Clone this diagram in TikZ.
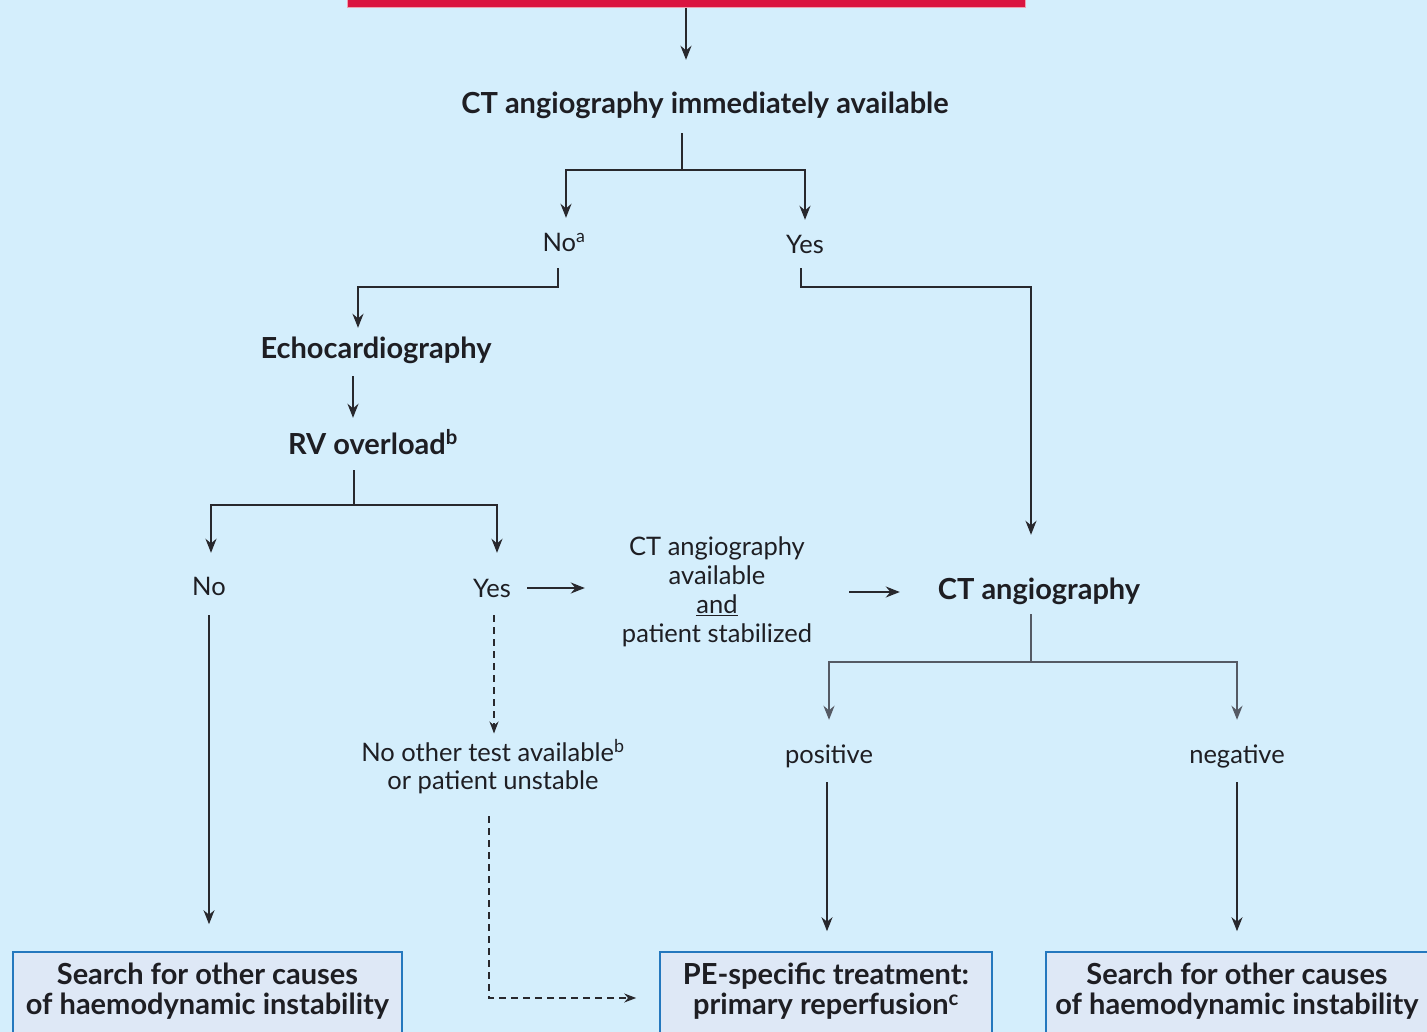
\documentclass[tikz,border=0pt]{standalone}
\usepackage{fontspec}
\setmainfont{Lato}
\usetikzlibrary{arrows.meta}
\definecolor{bgblue}{RGB}{212,238,252}
\definecolor{barred}{RGB}{218,20,64}
\definecolor{barpink}{RGB}{240,160,175}
\definecolor{boxfill}{RGB}{222,232,246}
\definecolor{boxline}{RGB}{36,120,190}
\definecolor{linecol}{RGB}{40,40,45}
\definecolor{linegrey}{RGB}{85,90,100}
\definecolor{txt}{RGB}{30,30,35}
\begin{document}
\begin{tikzpicture}[x=1pt,y=-1pt,
  lbl/.style={inner sep=0pt, text height=22pt, text depth=4pt, text=txt, font=\fontsize{25.5}{28}\selectfont},
  blbl/.style={lbl, font=\fontsize{29}{30}\selectfont\bfseries},
  mlbl/.style={inner sep=0pt, align=center, text=txt, font=\fontsize{25.5}{28}\selectfont},
  bmlbl/.style={inner sep=0pt, align=center, text=txt, font=\fontsize{29}{30}\selectfont\bfseries},
  bar/.style={fill=barred, draw=barpink, line width=1pt, minimum width=678pt, minimum height=28pt, inner sep=0pt},
  box/.style={fill=boxfill, draw=boxline, line width=1.6pt, minimum height=92pt, inner sep=0pt},
  ln/.style={draw=linecol, line width=1.8pt},
  arr/.style={ln, -{Stealth[length=14pt,width=11pt]}},
  lng/.style={draw=linegrey, line width=2.2pt},
  arrg/.style={lng, -{Stealth[length=14pt,width=11pt]}},
  dsh/.style={draw=linecol, line width=1.6pt, dash pattern=on 7pt off 5pt, -{Stealth[length=12pt,width=9pt]}}
]
\useasboundingbox (0,0) rectangle (1427,1032);
\fill[bgblue] (0,0) rectangle (1427,1032);

% nodes
\node[bar] (top) at (686,-6) {};
\node[blbl] (ctimm) at (705,105) {CT angiography immediately available};
\node[lbl] (no1) at (564,243) {No\textsuperscript{a}};
\node[lbl] (yes1) at (805,245) {Yes};
\node[blbl] (echo) at (376,350) {Echocardiography};
\node[blbl] (rv) at (373,445) {RV overload\textsuperscript{b}};
\node[lbl] (no2) at (209,586) {No};
\node[lbl, minimum width=70pt] (yes2) at (492,588) {Yes};
\node[mlbl, minimum width=264pt, font=\fontsize{25.5}{29}\selectfont] (ctav) at (717,592) {CT angiography\\available\\\underline{and}\\patient stabilized};
\node[blbl, minimum width=278pt] (ctang) at (1039,590) {CT angiography};
\node[lbl] (pos) at (829,754) {positive};
\node[lbl] (neg) at (1237,754) {negative};
\node[mlbl] (noother) at (493,767) {No other test available\textsuperscript{b}\\or patient unstable};

\node[box, minimum width=389pt] (lbox) at (207.5,998) {};
\node[box, minimum width=332pt] (pe) at (826,998) {};
\node[box, minimum width=382pt] (rbox) at (1237,998) {};
\node[bmlbl] (ltext) at (207.5,991) {Search for other causes\\of haemodynamic instability};
\node[bmlbl] (petext) at (826,991) {PE-specific treatment:\\primary reperfusion\textsuperscript{c}};
\node[bmlbl] (rtext) at (1237,991) {Search for other causes\\of haemodynamic instability};

% junctions
\coordinate (j1) at (682,170);
\coordinate (j2) at (358,287);
\coordinate (xe) at (353,0);
\coordinate (j3) at (354,505);
\coordinate (j4) at (1031,287);
\coordinate (j5) at (1031,662);
\coordinate (xd) at (489,0);

% connectors
\draw[arr, shorten >=32pt] (top.south) -- (top.south |- ctimm.north);
\draw[ln, shorten <=15pt] (j1 |- ctimm.south) -- (j1);
\draw[arr, shorten >=12pt] (j1) -| ([xshift=2pt]no1.north);
\draw[arr, shorten >=12pt] (j1) -| (yes1.north);
\draw[arr, shorten <=12pt, shorten >=9pt] ([xshift=-6pt]no1.south) |- (j2) -- (j2 |- echo.north);
\draw[arr, shorten <=13pt, shorten >=14pt] (echo.south -| xe) -- (rv.north -| xe);
\draw[ln, shorten <=12pt] (j3 |- rv.south) -- (j3);
\draw[arr, shorten >=20pt] (j3) -| ([xshift=2pt]no2.north);
\draw[arr, shorten >=22pt] (j3) -| ([xshift=5pt]yes2.north);
\draw[arr] (yes2.east) -- (yes2.east -| ctav.west);
\draw[arr] (ctav.east) -- (ctav.east -| ctang.west);
\draw[arr, shorten <=10pt, shorten >=42pt] ([xshift=-4pt]yes1.south) |- (j4) -- (j4 |- ctang.north);
\draw[lng, shorten <=11pt] (j5 |- ctang.south) -- (j5);
\draw[arrg, shorten >=21pt] (j5) -| (pos.north);
\draw[arrg, shorten >=21pt] (j5) -| (neg.north);
\draw[arr, shorten <=15pt, shorten >=20pt] ([xshift=-2pt]pos.south) -- ([xshift=-2pt]pos.south |- pe.north);
\draw[arr, shorten <=15pt, shorten >=20pt] (neg.south) -- (neg.south |- rbox.north);
\draw[arr, shorten <=16pt, shorten >=27pt] (no2.south) -- (no2.south |- lbox.north);
\draw[dsh, shorten <=14pt, shorten >=6pt] ([xshift=2pt]yes2.south) -- ([xshift=2pt]yes2.south |- noother.north);
\draw[dsh, shorten <=22pt, shorten >=23pt] (noother.south -| xd) |- (pe.west);
\end{tikzpicture}
\end{document}
